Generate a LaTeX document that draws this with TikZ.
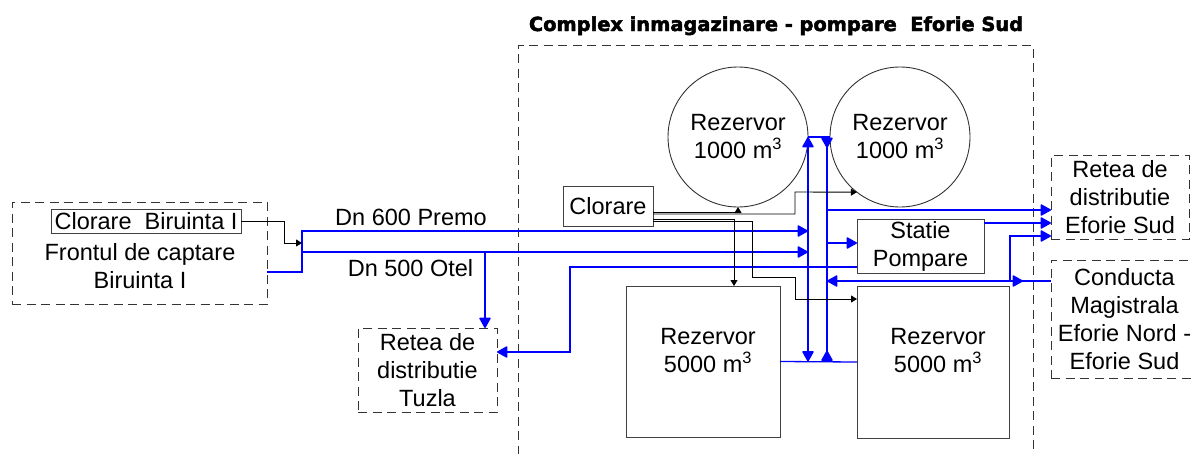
\documentclass[tikz,border=0pt]{standalone}
\usepackage{fontspec}
\setmainfont{Liberation Sans}
\newfontfamily\titlefont[FakeBold=2.5]{DejaVu Sans Bold}
\usetikzlibrary{arrows.meta}

\begin{document}
\begin{tikzpicture}[x=1pt, y=-1pt,
    every node/.style={font=\fontsize{23.5}{28}\selectfont, inner sep=0pt, outer sep=0pt},
    box/.style={draw=black!75, line width=0.9pt, rectangle},
    dbox/.style={draw=black!80, line width=0.9pt, dash pattern=on 9pt off 5.5pt, rectangle, align=center},
    tank/.style={draw=black!80, line width=0.9pt, circle, minimum size=140pt, align=center},
    pipe/.style={draw=blue, line width=1.3pt},
    ctrl/.style={draw=black, line width=0.9pt},
    bigtip/.tip={Triangle[length=11pt,width=12pt,round]},
    smalltip/.tip={Triangle[length=6pt,width=7pt]}]
            \useasboundingbox (0,0) rectangle (1192,453);

            \node[dbox, minimum width=515pt, minimum height=440pt] (complex) at (775.5,265) {};
            \node[font=\titlefont\bfseries\fontsize{19.4}{23}\selectfont, anchor=base] (title) at (776,31) {Complex inmagazinare - pompare\ \ Eforie Sud};

            \node[dbox, minimum width=255pt, minimum height=102pt] (front) at (139.5,253) {};
            \node[box, minimum width=190pt, minimum height=24pt] (clb) at (146,221) {Clorare\ \ Biruinta I};
            \node[align=center] (fronttxt) at (140,266.5) {Frontul de captare\\Biruinta I};
            \node[dbox, minimum width=139pt, minimum height=84pt] (tz) at (427.5,370) {Retea de\\distributie\\Tuzla};

            \node[tank] (r1) at (738,137) {Rezervor\\1000 m\textsuperscript{3}};
            \node[tank] (r2) at (900,137) {Rezervor\\1000 m\textsuperscript{3}};
            \node[box, minimum width=90pt, minimum height=40pt] (cl) at (608,206) {Clorare};
            \node[box, minimum width=127pt, minimum height=54pt, align=center] (sp) at (920.5,246) {Statie\\Pompare};
            \node[box, minimum width=154pt, minimum height=151pt] (rz1) at (703,361.5) {};
            \node[align=center] (rz1txt) at (708,351) {Rezervor\\5000 m\textsuperscript{3}};
            \node[box, minimum width=152pt, minimum height=152pt] (rz2) at (933,362) {};
            \node[align=center] (rz2txt) at (938,351) {Rezervor\\5000 m\textsuperscript{3}};

            \node[dbox, minimum width=138pt, minimum height=84pt] (res) at (1120,197) {Retea de\\distributie\\Eforie Sud};
            \node[dbox, minimum width=147pt, minimum height=118pt] (cd) at (1124.5,319) {Conducta\\Magistrala\\Eforie Nord -\\Eforie Sud};

            \node[anchor=base] (dn600) at (411,225) {Dn 600 Premo};
            \node[anchor=base] (dn500) at (410.5,276) {Dn 500 Otel};

            % junctions
            \coordinate (ja) at (302,231);
            \coordinate (jb) at (302,252);
            \coordinate (jc) at (302,243);
            \coordinate (jt) at (485,252);
            \coordinate (ot) at (827,137);
            \coordinate (ob) at (827,361.5);
            \coordinate (o1) at (827,210);
            \coordinate (o2) at (827,243);
            \coordinate (k) at (570,267);
            \coordinate (m) at (1010,281);
            \coordinate (c2) at (795,192);
            \coordinate (c4a) at (752,277);
            \coordinate (c4b) at (795,299);
            \coordinate (fe) at ([yshift=-19pt]front.east);
            \coordinate (s1) at ([yshift=23pt]sp.east);
            \coordinate (s2) at ([yshift=-21pt]sp.west);
            \coordinate (tze) at ([yshift=18pt]tz.east);
            \coordinate (re3) at ([yshift=-39pt]res.west);
            \coordinate (cdw) at ([yshift=38pt]cd.west);

            % inlet
            \draw[pipe,-bigtip] (fe) -| (ja) -- (ja -| r1.east);
            \draw[pipe,-bigtip] (jb) -- (jb -| r1.east);
            \draw[ctrl,-smalltip] (clb.east) -- ++(43,0) |- (jc);
            \draw[pipe,-bigtip] (jt) -- (jt |- tz.north);

            % tanks
            \draw[pipe] (r1.east) -- (r2.west);
            \draw[pipe,bigtip-bigtip] (r1.east) -- (r1.east |- rz1.east);
            \draw[pipe] (rz1.east) -- (rz2.west);
            \draw[pipe] (ot) -- (ob);
            \draw[pipe,-bigtip] (ot) -- ++(0,11);
            \draw[pipe,-bigtip] (ob) -- ++(0,-11);

            % outlet
            \draw[pipe,-bigtip] (o1) -- (o1 -| res.west);
            \draw[pipe,-bigtip] (o2) -- (o2 -| sp.west);
            \draw[pipe,-bigtip] (s1) -- (s1 -| res.west);
            \draw[pipe,-bigtip] (s2) -- (k) |- (tze);
            \draw[pipe,-bigtip] (cdw) -- (cdw -| ot);
            \draw[pipe,-bigtip] (m) |- (re3);
            \draw[pipe,-bigtip] (m) -- ++(13,0);

            % clorare
            \draw[ctrl,-smalltip] ([yshift=-6pt]cl.east) -| (r1.south);
            \draw[ctrl,-smalltip] ([yshift=-8pt]cl.east) -| (c2) -- (r2.232);
            \draw[ctrl,-smalltip] ([yshift=-13pt]cl.east) -| ([xshift=31pt]rz1.north);
            \draw[ctrl,-smalltip] ([yshift=-15pt]cl.east) -| (c4a) -| (c4b) -- (c4b -| rz2.west);

\end{tikzpicture}
\end{document}
